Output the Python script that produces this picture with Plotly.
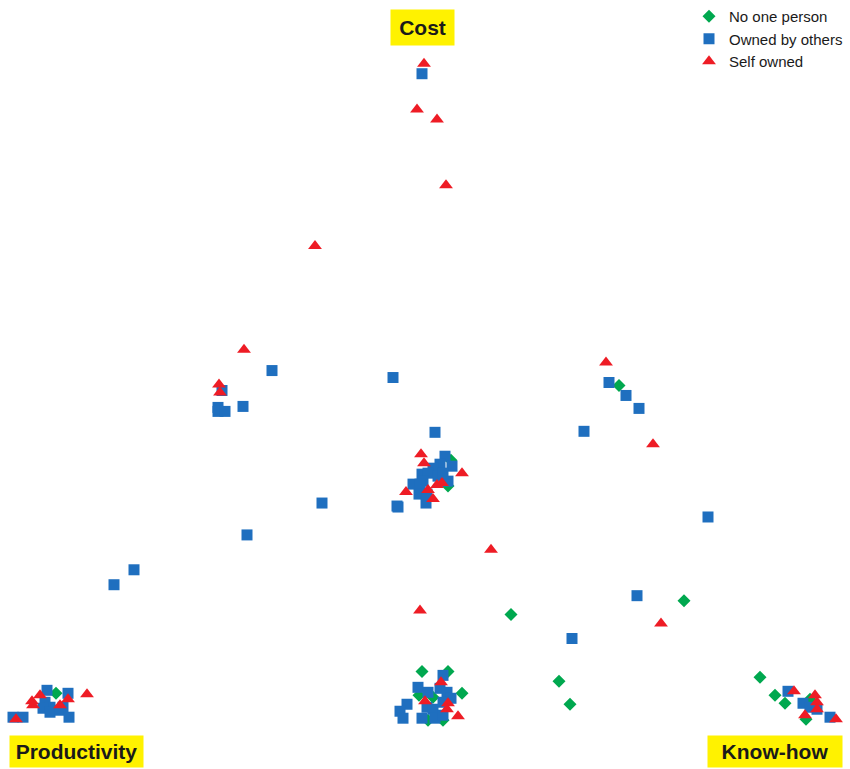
import plotly.graph_objects as go

# Positions on a 0..850 (x) by 0..769 (y, downward) plane
none_x = [619, 684, 511, 559, 570, 760, 775, 785, 451, 448,
          422, 448, 462, 419, 433, 428, 443, 810, 806, 56]
none_y = [384, 600, 614, 681, 704, 677, 695, 703, 459, 485,
          671, 671, 693, 695, 697, 720, 720, 699, 719, 693]

others_x = [422, 272, 393, 222, 243, 218, 218, 225, 435, 609, 626, 639, 584, 708,
            322, 397, 247, 134, 114, 637, 572,
            445, 440, 433, 452, 422, 428, 423, 413, 420, 448, 419, 427, 426, 398, 438, 443,
            47, 68, 45, 50, 43, 50, 63, 60, 69, 23, 13,
            443, 418, 428, 440, 447, 451, 407, 400, 403, 427, 433, 443, 422, 435, 443,
            788, 803, 810, 817, 830]
others_y = [71, 369, 376, 389, 405, 406, 410, 410, 431, 381, 394, 407, 430, 516,
            502, 505, 534, 569, 584, 595, 638,
            455, 463, 467, 465, 473, 472, 480, 483, 483, 480, 493, 493, 502, 506, 475, 472,
            690, 693, 702, 707, 708, 712, 707, 710, 717, 717, 717,
            675, 687, 692, 688, 692, 698, 704, 711, 718, 707, 709, 702, 718, 718, 715,
            691, 703, 707, 709, 717]

self_x = [424, 417, 437, 446, 315, 244, 219, 220, 606, 653, 491, 420, 661,
          421, 424, 462, 442, 437, 406, 428, 433,
          40, 32, 33, 68, 60, 87, 16,
          441, 425, 448, 447, 458,
          794, 815, 817, 817, 805, 836]
self_y = [61, 107, 117, 183, 244, 348, 383, 391, 361, 443, 549, 610, 623,
          453, 462, 472, 482, 484, 491, 489, 498,
          695, 701, 705, 699, 705, 694, 719,
          682, 701, 703, 709, 716,
          691, 695, 702, 709, 715, 719]

corner_labels = ["Cost", "Productivity", "Know-how"]
corner_x = [422.5, 76.5, 775]
corner_y = [24.5, 751.5, 751.5]
corner_w = [63, 133, 134]
corner_h = [35, 31, 31]

fig = go.Figure()
fig.add_trace(go.Scatter(x=none_x, y=none_y, mode="markers", name="No one person",
                         marker=dict(symbol="diamond", size=10, color="#00A84F")))
fig.add_trace(go.Scatter(x=others_x, y=others_y, mode="markers", name="Owned by others",
                         marker=dict(symbol="square", size=11, color="#1F6FBF")))
fig.add_trace(go.Scatter(x=self_x, y=self_y, mode="markers", name="Self owned",
                         marker=dict(symbol="triangle-up", size=12, color="#EE1C25")))

for t, x, y, w, h in zip(corner_labels, corner_x, corner_y, corner_w, corner_h):
    fig.add_annotation(x=x, y=y, xref="x", yref="y", text="<b>" + t + "</b>",
                       showarrow=False, bgcolor="#FFF200", borderpad=0,
                       width=w, height=h, align="center", valign="middle",
                       font=dict(family="Liberation Sans", size=21, color="#1a1a1a"))

fig.update_layout(
    width=850, height=769,
    margin=dict(l=0, r=0, t=0, b=0),
    paper_bgcolor="white", plot_bgcolor="white",
    xaxis=dict(range=[0, 850], visible=False, fixedrange=True),
    yaxis=dict(range=[769, 0], visible=False, fixedrange=True),
    showlegend=True,
    legend=dict(x=689 / 850, y=1.0 + 3 / 769, xanchor="left", yanchor="top",
                font=dict(family="Liberation Sans", size=15, color="#1a1a1a"),
                bgcolor="rgba(255,255,255,0)", tracegroupgap=0, itemwidth=30),
)
fig.write_html("out.html", config={"displayModeBar": False},
               post_script="document.body.style.margin='0px';document.body.style.overflow='hidden';")
